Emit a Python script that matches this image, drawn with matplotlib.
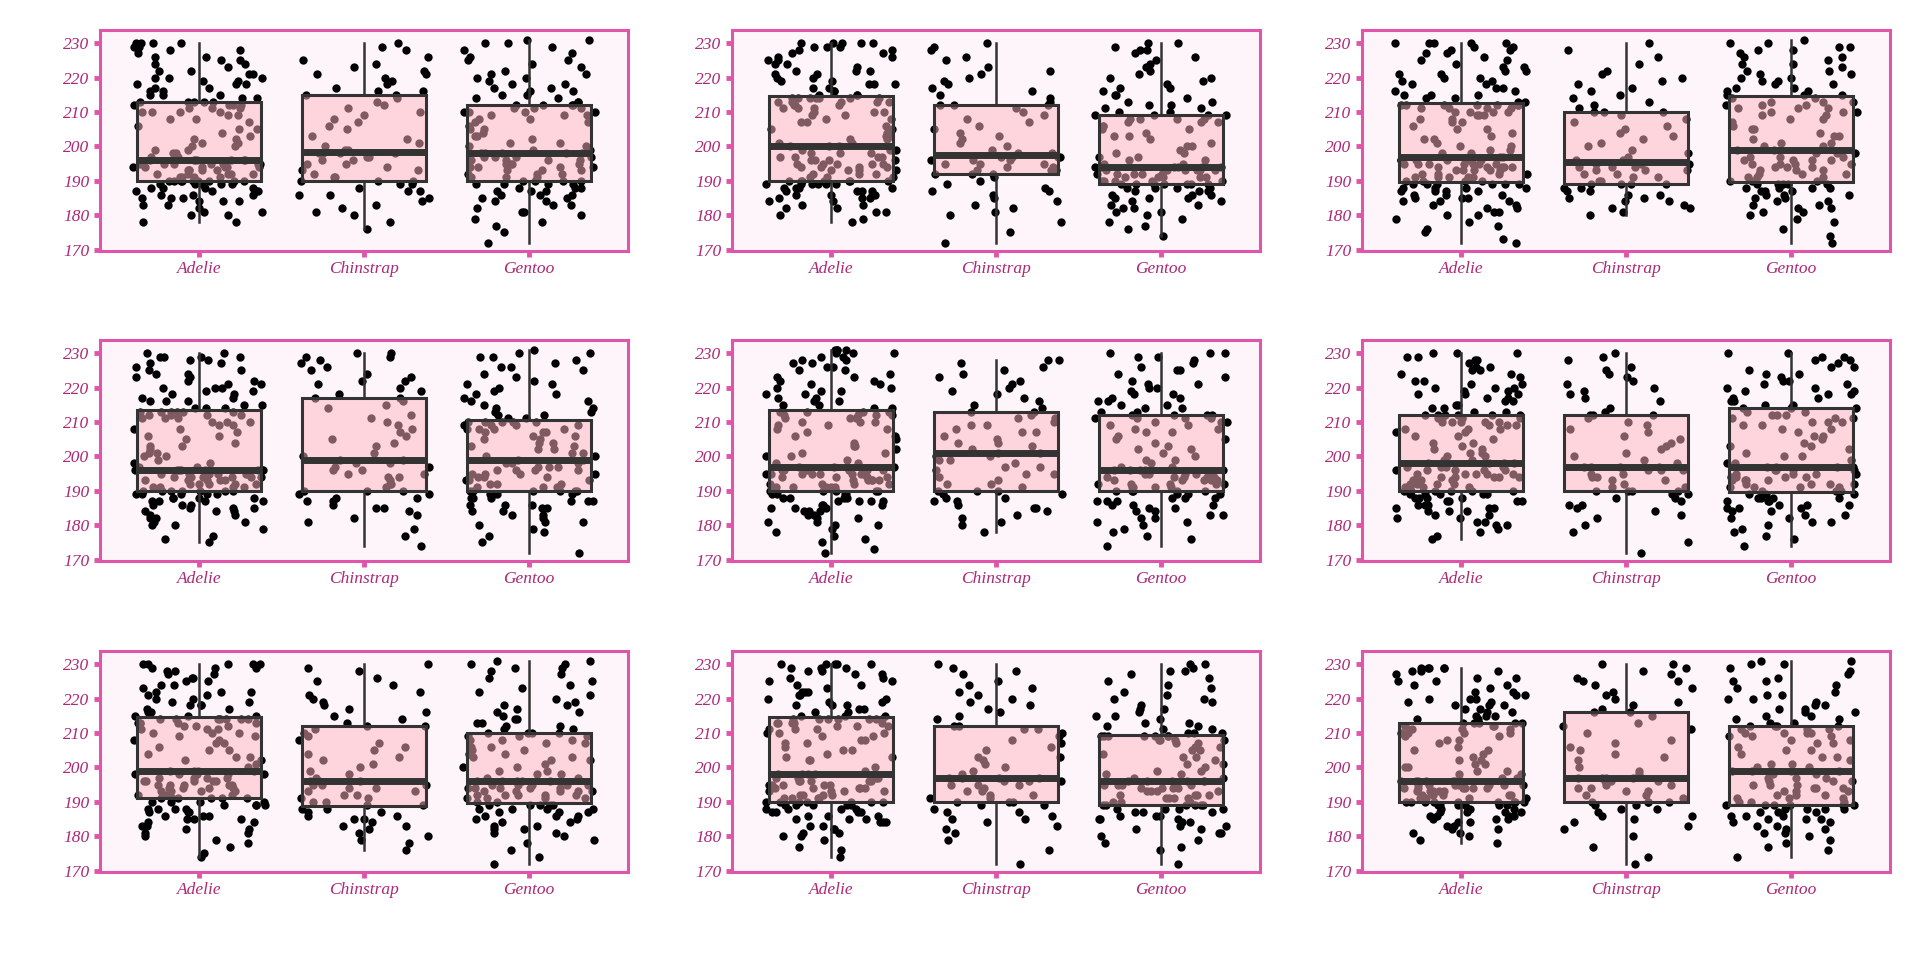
import numpy as np
import matplotlib.pyplot as plt
import seaborn as sns

species = ['Adelie', 'Chinstrap', 'Gentoo']

# flipper length (mm) per species, one set per panel
adelie_1 = [178,178,180,180,181,181,182,183,183,184,184,184,185,185,185,186,186,186,187,187,187,187,188,188,188,188,189,189,189,189,189,190,190,190,190,190,190,190,
            190,190,190,191,191,191,191,192,192,192,192,192,193,193,193,193,193,194,194,194,194,194,194,195,195,195,195,195,195,195,196,196,196,196,196,196,196,196,
            197,197,198,198,199,199,200,200,201,201,202,202,203,204,205,205,206,207,208,208,209,209,210,210,210,210,211,211,211,212,212,212,212,213,213,213,213,213,
            214,214,215,215,215,216,216,217,217,218,218,218,219,219,220,220,220,221,221,222,222,223,224,224,225,225,226,226,227,228,228,229,229,230,230,230,230]
chinstrap_1 = [176,178,180,181,182,183,184,185,186,186,187,187,188,189,189,190,190,
               190,191,191,192,193,193,194,195,195,196,196,197,197,198,198,198,198,
               199,199,200,201,202,203,205,206,207,208,209,210,211,212,213,214,215,
               215,216,216,217,218,219,220,221,221,222,223,224,225,226,228,229,230]
gentoo_1 = [172,175,177,178,179,180,181,181,182,183,183,184,184,185,185,186,186,186,187,187,187,188,188,188,189,189,189,189,190,190,190,
            190,191,191,191,192,192,192,193,193,193,194,194,194,194,195,195,195,195,196,196,196,196,197,197,197,197,198,198,198,198,198,
            199,199,200,200,201,201,202,203,203,204,205,205,206,207,207,208,208,209,209,209,210,210,210,210,211,211,211,212,212,212,212,
            213,213,214,214,215,215,216,216,217,217,218,218,219,220,220,221,221,222,223,224,225,225,226,227,228,229,230,230,231,231]

adelie_2 = [178,179,180,181,181,182,182,183,183,184,184,185,185,185,186,186,186,186,187,187,187,187,188,188,188,188,189,189,189,189,189,189,190,190,190,190,190,190,
            190,190,191,191,191,192,192,192,193,193,193,193,194,194,194,194,195,195,195,195,195,196,196,196,196,197,197,197,197,198,198,198,199,199,199,200,200,200,
            201,201,202,202,203,203,204,205,205,206,207,207,208,208,209,209,210,210,210,211,211,211,212,212,212,213,213,213,213,213,214,214,214,214,214,214,214,215,
            215,215,216,216,217,217,218,218,218,219,219,220,220,221,221,222,222,222,223,224,224,225,225,226,226,227,227,228,228,229,229,229,230,230,230,230,230]
chinstrap_2 = [172,175,178,180,181,182,183,184,185,186,187,187,188,189,190,191,192,
               192,192,193,193,193,194,194,195,195,195,196,196,196,197,197,197,197,
               198,198,199,200,201,202,203,204,205,206,207,208,209,210,211,212,212,
               212,213,214,215,216,217,218,219,220,221,222,223,225,226,228,229,230]
gentoo_2 = [174,176,177,178,179,180,181,181,182,182,183,183,184,184,185,185,185,186,186,186,187,187,187,188,188,188,188,189,189,189,189,
            189,189,189,190,190,190,190,190,191,191,191,191,191,192,192,192,192,192,193,193,193,193,193,193,194,194,194,194,194,194,194,
            195,195,196,196,197,197,198,198,199,200,200,201,202,203,203,204,205,205,206,206,207,207,207,208,208,208,208,209,209,209,209,
            210,210,211,211,212,212,213,213,214,215,215,216,217,217,218,219,220,220,221,222,223,224,225,226,227,228,228,229,230,230]

adelie_3 = [172,173,175,176,177,178,179,180,180,181,181,182,182,183,183,184,184,184,185,185,185,186,186,186,187,187,187,187,188,188,188,188,189,189,189,189,189,189,
            190,190,190,190,191,191,191,191,191,192,192,192,192,193,193,193,193,193,194,194,194,194,194,195,195,195,195,195,195,195,196,196,196,196,196,196,196,197,
            197,198,198,199,199,200,200,201,202,202,203,204,205,205,206,207,207,208,208,209,209,209,210,210,210,210,211,211,211,211,212,212,212,212,212,212,212,213,
            213,214,214,215,215,215,216,216,217,217,218,218,219,219,220,220,221,221,222,222,223,223,224,225,225,226,227,227,228,228,229,229,230,230,230,230,230]
chinstrap_3 = [180,181,182,182,183,184,184,185,185,186,186,187,187,188,188,189,189,
               189,189,190,190,191,191,192,192,193,193,193,194,194,194,195,195,195,
               196,196,197,198,199,200,201,202,203,204,205,206,207,208,209,210,210,
               210,211,212,213,214,215,216,217,218,219,220,221,222,224,226,228,230]
gentoo_3 = [172,174,176,178,179,180,181,181,182,182,183,183,184,184,185,185,186,186,186,187,187,187,188,188,188,188,189,189,189,189,189,
            190,190,190,191,191,191,192,192,192,193,193,193,194,194,194,195,195,195,195,196,196,196,196,197,197,197,198,198,198,199,199,
            200,200,201,201,202,203,203,204,205,205,206,207,208,208,209,209,210,210,210,211,211,211,212,212,212,213,213,213,214,214,215,
            215,215,216,216,217,217,218,218,219,219,220,220,221,221,222,222,223,224,224,225,226,226,227,228,228,229,229,230,230,231]

adelie_4 = [175,176,177,179,180,180,181,181,182,182,183,183,184,184,184,185,185,185,186,186,186,187,187,187,187,188,188,188,188,189,189,189,189,189,190,190,190,190,
            190,190,190,191,191,191,191,192,192,192,192,192,193,193,193,193,193,194,194,194,194,194,194,195,195,195,195,195,195,195,196,196,196,196,196,196,196,196,
            197,197,198,198,199,200,200,201,201,202,203,203,204,205,206,206,207,208,208,209,209,210,210,210,211,211,211,212,212,212,212,213,213,213,213,213,213,214,
            214,214,215,215,216,216,216,217,217,218,218,219,219,220,220,220,221,221,222,222,223,223,224,224,225,225,226,227,227,228,228,229,229,229,229,230,230]
chinstrap_4 = [174,177,179,181,182,183,184,185,185,186,187,187,188,188,189,189,190,
               190,190,191,192,192,193,194,194,195,195,196,196,197,197,198,198,199,
               199,200,201,203,204,205,206,207,208,209,210,211,212,214,215,216,217,
               217,218,219,220,221,222,222,223,224,225,226,227,228,229,229,230,230]
gentoo_4 = [172,175,177,178,179,180,181,181,182,183,183,184,184,185,185,186,186,186,187,187,187,188,188,188,189,189,189,189,190,190,190,
            190,190,190,191,191,191,192,192,192,193,193,193,194,194,194,195,195,195,195,196,196,196,196,197,197,197,198,198,198,199,199,
            200,200,201,201,202,202,203,203,204,204,205,205,206,206,207,207,207,208,208,208,208,209,209,209,209,210,210,210,210,210,211,
            211,212,212,213,213,214,214,215,216,216,217,218,218,219,220,221,221,222,223,224,225,226,226,227,228,229,229,230,230,231]

adelie_5 = [172,173,175,176,177,178,179,180,180,181,181,182,182,183,183,184,184,184,185,185,185,186,186,186,187,187,187,187,188,188,188,188,189,189,189,189,190,190,
            190,190,190,190,191,191,191,191,191,192,192,192,192,193,193,193,193,193,194,194,194,194,194,195,195,195,195,195,195,195,196,196,196,196,196,196,196,197,
            197,197,198,198,199,200,200,201,201,202,203,203,204,205,206,206,207,208,208,209,209,210,210,210,211,211,211,212,212,212,212,213,213,213,213,213,213,214,
            214,215,215,216,216,217,217,218,218,219,219,220,220,221,221,222,222,223,223,224,225,225,226,226,227,227,228,228,229,229,230,230,230,231,231,231,231]
chinstrap_5 = [178,180,181,182,183,184,185,185,186,187,187,188,188,189,189,190,190,
               190,191,192,192,193,194,195,195,196,197,197,198,199,199,200,200,201,
               201,202,203,204,204,205,206,207,207,208,209,209,210,211,211,212,213,
               213,214,215,216,217,218,219,220,221,222,223,224,225,226,227,228,228]
gentoo_5 = [174,176,177,178,179,180,181,181,182,182,183,183,184,184,185,185,186,186,186,187,187,187,188,188,188,189,189,189,190,190,190,
            190,190,191,191,191,191,192,192,192,192,192,193,193,193,193,193,194,194,194,194,194,195,195,195,195,195,196,196,196,196,196,
            197,197,198,199,199,200,201,202,202,203,204,205,205,206,207,207,208,208,209,209,210,210,210,211,211,211,211,212,212,212,212,
            213,213,214,214,215,215,216,216,217,217,218,218,219,220,220,221,221,222,223,224,225,225,226,227,228,229,229,230,230,230]

adelie_6 = [176,177,178,179,180,180,181,181,182,182,183,183,184,184,184,185,185,185,186,186,186,187,187,187,187,188,188,188,188,189,189,189,189,189,190,190,190,190,
            190,190,190,191,191,191,191,192,192,192,192,193,193,193,193,194,194,194,194,194,195,195,195,195,195,196,196,196,196,196,197,197,197,197,198,198,198,198,
            199,199,200,200,201,201,202,202,203,204,204,205,206,206,207,207,208,208,208,209,209,209,210,210,210,210,210,211,211,211,211,211,212,212,212,212,212,212,
            213,213,214,214,215,215,216,216,217,217,218,218,218,219,219,220,220,220,221,221,222,222,223,224,224,225,225,226,226,227,228,228,229,229,230,230,230]
chinstrap_6 = [172,175,178,180,182,183,184,185,186,186,187,188,188,189,189,190,190,
               190,190,191,191,192,193,193,194,194,195,195,196,196,196,197,197,197,
               197,198,199,200,201,202,203,204,205,206,207,208,209,210,211,212,212,
               212,213,214,216,217,218,219,220,221,222,223,224,225,226,228,229,230]
gentoo_6 = [174,176,177,178,179,180,181,181,182,182,183,183,184,184,185,185,185,186,186,186,187,187,187,188,188,188,188,189,189,189,189,
            190,190,190,191,191,191,191,192,192,192,192,193,193,193,193,194,194,194,194,195,195,195,195,196,196,196,196,197,197,197,197,
            198,198,199,200,200,201,202,203,203,204,205,206,206,207,208,208,209,209,210,210,210,211,211,211,212,212,212,213,213,214,214,
            214,215,215,216,216,217,217,218,218,219,219,220,220,221,221,222,222,223,224,224,225,226,226,227,228,228,229,229,230,230]

adelie_7 = [174,175,177,178,179,180,181,181,182,182,183,183,184,184,185,185,185,186,186,186,187,187,187,188,188,188,188,189,189,189,189,190,190,190,190,191,191,191,
            191,191,191,192,192,192,192,193,193,193,193,194,194,194,194,195,195,195,195,195,196,196,196,196,196,197,197,197,197,198,198,198,198,198,199,199,199,199,
            200,201,202,202,203,203,204,205,205,206,207,207,208,208,209,209,210,210,210,211,211,211,212,212,212,213,213,213,213,213,214,214,214,214,214,214,214,215,
            215,215,216,216,217,217,218,218,218,219,219,220,220,221,221,222,222,222,223,224,224,225,225,226,226,227,227,228,228,229,229,229,230,230,230,230,230]
chinstrap_7 = [176,178,179,180,181,182,183,183,184,185,185,186,186,187,187,188,188,
               189,189,190,190,191,191,192,192,193,193,194,194,195,195,195,196,196,
               196,197,198,199,200,201,202,203,204,205,206,207,208,209,210,211,212,
               212,213,214,215,216,217,218,219,220,221,222,224,225,226,228,229,230]
gentoo_7 = [172,174,176,178,179,180,181,181,182,182,183,183,184,184,185,185,186,186,186,187,187,187,188,188,188,188,189,189,189,189,189,
            190,190,191,191,191,191,192,192,192,192,192,193,193,193,193,193,194,194,194,194,194,195,195,195,195,195,196,196,196,196,196,
            197,197,198,198,199,199,200,200,201,202,202,203,203,204,204,205,205,206,206,207,207,208,208,208,209,209,209,210,210,210,210,
            211,211,212,212,213,213,214,214,215,216,216,217,218,218,219,220,221,222,223,224,225,226,227,228,229,229,230,230,231,231]

adelie_8 = [174,176,177,179,180,180,181,181,182,182,183,183,184,184,184,185,185,185,186,186,186,187,187,187,187,188,188,188,188,189,189,189,189,189,190,190,190,190,
            190,190,190,191,191,191,191,192,192,192,192,193,193,193,193,194,194,194,194,194,195,195,195,195,195,196,196,196,196,196,197,197,197,197,198,198,198,198,
            199,200,202,202,203,203,204,205,205,206,207,207,208,208,209,209,210,210,210,211,211,211,212,212,212,213,213,213,213,213,214,214,214,214,214,214,214,215,
            215,215,216,216,217,217,218,218,218,219,219,220,220,221,221,222,222,222,223,224,224,225,225,226,226,227,227,228,228,229,229,229,230,230,230,230,230]
chinstrap_8 = [172,176,179,181,182,183,184,185,185,186,187,187,188,189,189,190,190,
               190,191,191,192,192,193,193,194,195,195,195,196,196,196,197,197,197,
               197,198,199,200,201,202,203,203,205,206,207,208,209,210,211,211,212,
               212,214,215,216,217,218,219,220,221,222,223,224,225,227,228,229,230]
gentoo_8 = [172,176,177,178,179,180,181,181,182,182,183,183,184,184,185,185,185,186,186,186,187,187,187,188,188,188,188,189,189,189,189,
            189,189,190,190,190,191,191,191,191,192,192,192,192,193,193,193,193,194,194,194,194,195,195,195,195,196,196,196,196,196,196,
            197,197,198,198,199,199,200,201,201,202,203,203,204,205,205,206,206,207,207,208,208,208,208,209,209,209,209,209,209,209,210,
            210,210,211,211,212,212,213,213,214,215,215,216,217,217,218,219,220,220,221,222,223,224,225,226,227,228,228,229,230,230]

adelie_9 = [178,179,180,181,181,182,182,183,183,184,184,185,185,185,186,186,186,186,187,187,187,187,188,188,188,188,189,189,189,189,189,189,190,190,190,190,190,190,
            190,190,190,191,191,191,191,192,192,192,192,192,193,193,193,193,193,194,194,194,194,194,194,195,195,195,195,195,195,195,196,196,196,196,196,196,196,196,
            197,197,198,198,199,199,200,200,201,201,202,202,203,204,205,205,206,207,208,208,209,209,210,210,210,210,211,211,211,212,212,212,212,213,213,213,213,213,
            214,214,215,215,215,216,216,217,217,218,218,218,219,219,220,220,220,221,221,222,222,223,224,224,225,225,226,226,227,228,228,228,229,229,229,229,229]
chinstrap_9 = [172,174,177,180,182,183,184,185,186,186,187,188,188,189,189,190,190,
               190,190,191,192,192,193,193,194,194,195,195,196,196,196,197,197,197,
               197,198,199,200,202,203,204,205,206,207,208,210,211,212,213,215,216,
               216,217,218,219,220,221,222,223,224,225,225,226,227,228,229,230,230]
gentoo_9 = [174,176,177,178,179,180,181,181,182,182,183,183,184,184,185,185,185,186,186,186,187,187,187,188,188,188,188,189,189,189,189,
            189,189,190,190,190,191,191,191,192,192,192,193,193,193,194,194,194,195,195,195,196,196,196,197,197,197,198,198,199,199,199,
            199,199,200,200,201,201,202,203,203,204,205,205,206,207,207,208,208,209,209,209,210,210,210,210,211,211,211,212,212,212,212,
            213,213,214,214,215,215,216,216,217,217,218,218,219,220,220,221,221,222,223,224,225,225,226,227,228,229,230,230,231,231]

panels = [
    (adelie_1, chinstrap_1, gentoo_1), (adelie_2, chinstrap_2, gentoo_2), (adelie_3, chinstrap_3, gentoo_3),
    (adelie_4, chinstrap_4, gentoo_4), (adelie_5, chinstrap_5, gentoo_5), (adelie_6, chinstrap_6, gentoo_6),
    (adelie_7, chinstrap_7, gentoo_7), (adelie_8, chinstrap_8, gentoo_8), (adelie_9, chinstrap_9, gentoo_9),
]

edge = '#df55a9'
label_col = '#ad2777'
plt.rcParams['font.family'] = ['Liberation Serif', 'DejaVu Serif']

fig = plt.figure(figsize=(19.2, 9.6), dpi=100)
lefts = [100 / 1920, 732 / 1920, 1362 / 1920]
bottoms = [1 - 251 / 960, 1 - 561 / 960, 1 - 872 / 960]
w, h = 528 / 1920, 221 / 960

np.random.seed(7)  # jitter only
for k, groups in enumerate(panels):
    ax = fig.add_axes([lefts[k % 3], bottoms[k // 3], w, h])
    ax.set_facecolor('#fdf5fa')
    xs = sum([[sp] * len(g) for sp, g in zip(species, groups)], [])
    ys = sum([list(g) for g in groups], [])
    sns.stripplot(x=xs, y=ys, order=species, jitter=0.4, color='black', size=6,
                  linewidth=0, ax=ax, zorder=1)
    ax.boxplot(groups, positions=[0, 1, 2], widths=0.75, whis=(0, 100),
               patch_artist=True, showcaps=False, showfliers=False, zorder=3,
               boxprops=dict(facecolor=(1, 0.71, 0.76, 0.5), edgecolor='#333333', linewidth=2.2),
               medianprops=dict(color='#333333', linewidth=5),
               whiskerprops=dict(color='#333333', linewidth=1.8))
    ax.set_xlim(-0.6, 2.6)
    ax.set_ylim(169.6, 233.8)
    ax.set_yticks([170, 180, 190, 200, 210, 220, 230])
    ax.set_xticks([0, 1, 2])
    ax.set_xticklabels(species)
    ax.set_xlabel('')
    ax.set_ylabel('')
    for s in ax.spines.values():
        s.set_color(edge)
        s.set_linewidth(2.2)
    ax.tick_params(length=4.5, width=3.5, color=edge, labelcolor=label_col,
                   labelsize=12.5, pad=3)
    for t in ax.get_xticklabels() + ax.get_yticklabels():
        t.set_fontstyle('italic')

fig.savefig('out.png', dpi=100)
